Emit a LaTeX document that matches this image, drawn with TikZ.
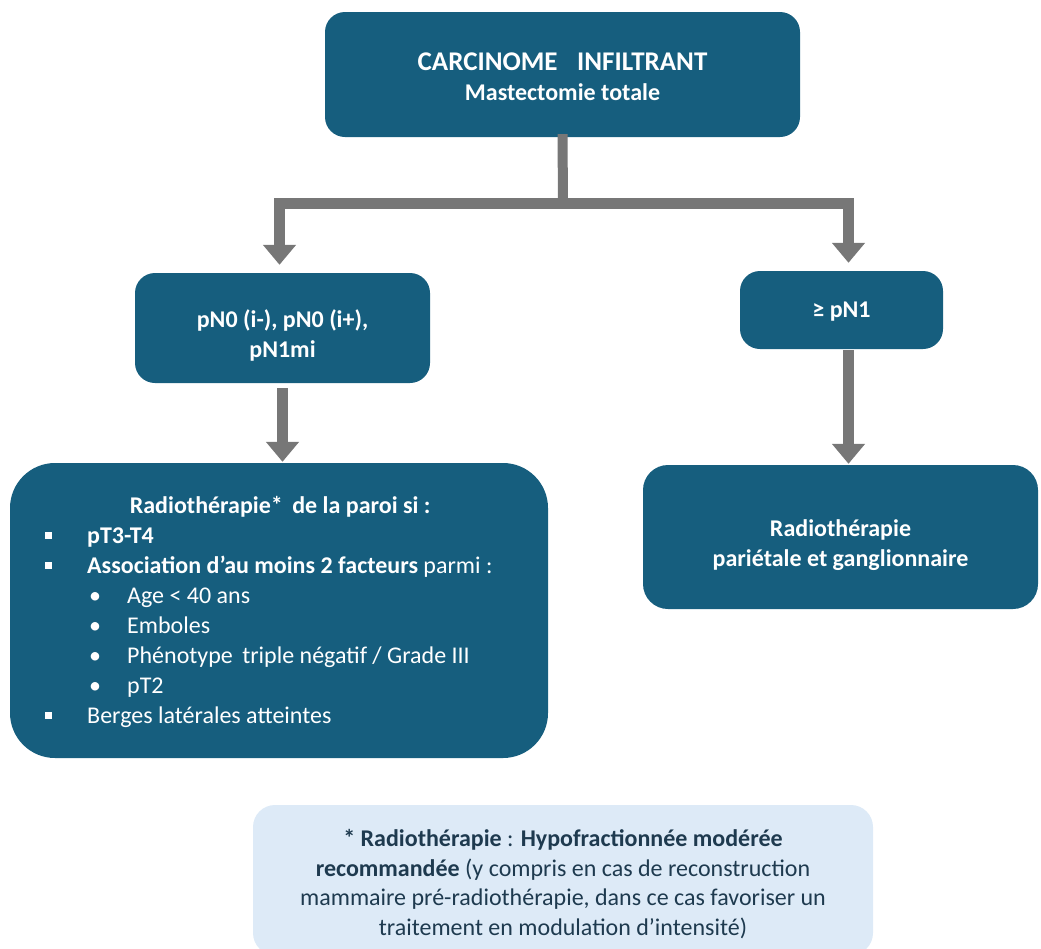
\documentclass[tikz,border=0pt]{standalone}
\usepackage{fontspec}
\setmainfont{Carlito}
\usetikzlibrary{arrows.meta}
\usetikzlibrary{positioning}

\definecolor{boxblue}{RGB}{22,94,126}
\definecolor{notebg}{RGB}{221,234,247}
\definecolor{notetxt}{RGB}{30,58,79}
\definecolor{arrgray}{RGB}{119,119,119}

\newcommand{\sqitem}{\makebox[42pt][l]{\rule[4pt]{7pt}{7pt}}}
\newcommand{\rditem}{\hspace*{44pt}\makebox[38pt][l]{\textbullet}}
\newcommand{\twolines}[2]{\begin{tabular}{@{}c@{}}#1\\#2\end{tabular}}

\begin{document}
\begin{tikzpicture}[x=1pt,y=-1pt,
  box/.style={draw=none,fill=boxblue,text=white,rounded corners=20pt,
    font=\fontsize{24}{30}\selectfont\bfseries,inner sep=0pt,text depth=7pt},
  arr/.style={draw=arrgray,line width=11pt,line join=miter,
    -{Triangle[width=32pt,length=20pt]}},
  stem/.style={draw=arrgray,line width=10pt}]
\useasboundingbox (0,0) rectangle (1041,948);

% boxes
\node[box,minimum width=475pt,minimum height=125pt,text depth=13pt] (top) at (562.5,74.5)
  {\twolines{\fontsize{27}{30}\selectfont CARCINOME\hspace{0.5em} INFILTRANT}{Mastectomie totale}};
\node[box,minimum width=295pt,minimum height=110pt] (pNzero) at (282.5,328)
  {\twolines{pN0 (i-), pN0 (i+),}{pN1mi}};
\node[box,minimum width=203pt,minimum height=78pt,text depth=-2pt] (pNone) at (841.5,310)
  {≥ pN1};
\node[box,rounded corners=45pt,minimum width=538pt,minimum height=295pt] (paroi) at (279,610.5) {};
\node[box,rounded corners=25pt,minimum width=395pt,minimum height=144pt] (ganglion) at (840.5,537)
  {\twolines{Radiothérapie}{pariétale et ganglionnaire}};
\node[fill=notebg,text=notetxt,rounded corners=22pt,minimum width=620pt,minimum height=150pt,
  inner sep=0pt] (note) at (563,880) {};

% texts
\node[text=white,anchor=north west,inner sep=0pt,font=\fontsize{24}{30}\selectfont]
  (paroiTxt) at (45,496) {\begin{minipage}{470pt}
  \centering\textbf{Radiothérapie*\, de la paroi si :}\par
  \raggedright
  \sqitem\textbf{pT3-T4}\par
  \sqitem\textbf{Association d’au moins 2 facteurs} parmi :\par
  \rditem Age < 40 ans\par
  \rditem Emboles\par
  \rditem Phénotype\, triple négatif / Grade III\par
  \rditem pT2\par
  \sqitem Berges latérales atteintes\par
  \end{minipage}};
\node[text=notetxt,align=center,inner sep=0pt,font=\fontsize{24}{29.6}\selectfont]
  (noteTxt) at (563,884) {\textbf{* Radiothérapie} : \textbf{Hypofractionnée modérée}\\
  \textbf{recommandée} (y compris en cas de reconstruction\\
  mammaire pré-radiothérapie, dans ce cas favoriser un\\
  traitement en modulation d’intensité)};

% connectors
\coordinate (split) at (563,203);
\draw[stem] ([yshift=3pt]top.south) -- (split);
\draw[arr,shorten >=8pt] ([xshift=6pt]split) -| ([xshift=-3pt]pNzero.north);
\draw[arr,shorten >=8pt] ([xshift=-6pt]split) -| ([xshift=7pt]pNone.north);
\draw[arr,shorten <=5pt,shorten >=1pt] (pNzero.south) -- (pNzero.south |- paroi.north);
\draw[arr,shorten <=1pt,shorten >=1pt] ([xshift=7pt]pNone.south) -- ([xshift=7pt]pNone.south |- ganglion.north);
\end{tikzpicture}
\end{document}
